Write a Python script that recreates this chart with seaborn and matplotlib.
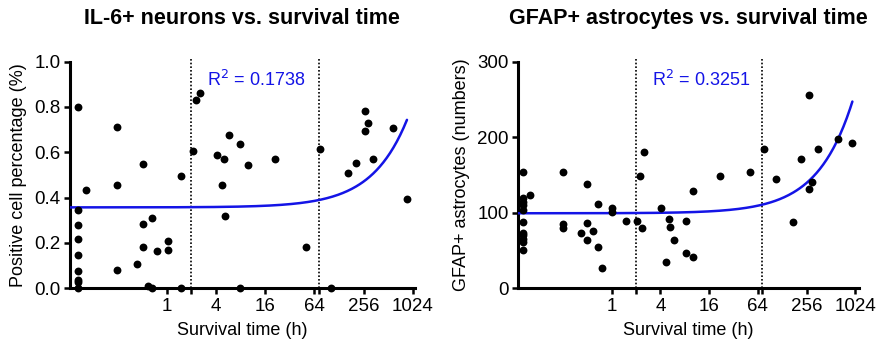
import numpy as np
import pandas as pd
import seaborn as sns
import matplotlib.pyplot as plt
from matplotlib.ticker import FixedLocator, FixedFormatter, NullFormatter

# IL-6+ neurons: survival time (h) and positive cell fraction
il6_hours = [0.082] * 9 + [0.104, 0.25, 0.25, 0.25, 0.43, 0.52, 0.52, 0.52, 0.6, 0.67, 0.67, 0.77,
             1.03, 1.03, 1.5, 1.5, 2.1, 2.26, 2.55, 4.08, 4.7, 5.06, 5.2, 5.8, 8, 8, 10, 21, 50,
             74, 103, 166, 208, 263, 263, 290, 333, 590, 866]
il6_pct = [0.80, 0.347, 0.279, 0.219, 0.148, 0.076, 0.037, 0.026, 0.0,
           0.434, 0.71, 0.456, 0.081, 0.109, 0.55, 0.285, 0.184, 0.01, 0.312, 0.0, 0.166,
           0.209, 0.171, 0.494, 0.0, 0.606, 0.831, 0.86, 0.587, 0.456, 0.569, 0.318, 0.675,
           0.638, 0.0, 0.546, 0.571, 0.184, 0.613, 0.0, 0.509, 0.554, 0.694, 0.784, 0.728,
           0.572, 0.707, 0.394]

# GFAP+ astrocytes: survival time (h) and counts
gfap_hours = [0.079] * 11 + [0.097, 0.25, 0.25, 0.25, 0.42, 0.5, 0.5, 0.5, 0.58, 0.67, 0.67, 0.76,
              1.0, 1.0, 1.5, 2.07, 2.24, 2.35, 2.53, 4.03, 4.7, 5.07, 5.27, 5.9, 8.2, 8.2,
              10.2, 10.2, 21.5, 51, 77, 108, 173, 218, 274, 274, 295, 350, 625, 942]
gfap_count = [154.3, 119.5, 114.6, 109.8, 103.6, 87.3, 72.8, 70.1, 65.6, 61.7, 50.7,
              123, 154.4, 85.6, 79.4, 73.7, 137.6, 86.5, 63.5, 76.3, 111.2, 55.1, 27.4,
              105.9, 101, 89.6, 88.7, 148.7, 80.3, 180.9, 106.8, 35.3, 91.3, 81.6, 64.4,
              89.6, 46.3, 128.8, 41.5, 148.7, 154, 184, 144.7, 88.2, 170.7, 255.9, 131.5,
              140.7, 184.4, 197.6, 192.8]

# linear fits (intercept, slope) and R^2 as shown on the chart
il6_fit = (0.357, 0.000446)
gfap_fit = (99.3, 0.157)
il6_r2 = "0.1738"
gfap_r2 = "0.3251"

x_ticks = [1, 4, 16, 64, 256, 1024]
marker_hours = [2, 72]

sns.set_theme(style="ticks")
plt.rcParams['font.family'] = ['Liberation Sans', 'DejaVu Sans']
plt.rcParams.update({"text.color": "black", "axes.labelcolor": "black",
                     "xtick.color": "black", "ytick.color": "black"})

fig = plt.figure(figsize=(8.77, 3.46), dpi=100)
ax1 = fig.add_axes([0.0798, 0.1668, 0.393, 0.655])
ax2 = fig.add_axes([0.591, 0.1668, 0.388, 0.655])

panels = [
    (ax1, il6_hours, il6_pct, il6_fit, il6_r2, (0.066, 1075), (0, 1.0), [0, 0.2, 0.4, 0.6, 0.8, 1.0],
     "IL-6+ neurons vs. survival time", "Positive cell percentage (%)", "{:.1f}", 0.92),
    (ax2, gfap_hours, gfap_count, gfap_fit, gfap_r2, (0.07, 1124), (0, 300), [0, 100, 200, 300],
     "GFAP+ astrocytes vs. survival time", "GFAP+ astrocytes (numbers)", "{:.0f}", 276),
]

blue = "#1414e6"

for ax, hrs, vals, fit, r2, xlim, ylim, yticks, title, ylabel, fmt, r2_y in panels:
    df = pd.DataFrame({"hours": hrs, "value": vals})
    sns.scatterplot(data=df, x="hours", y="value", ax=ax, color="black", s=32,
                    linewidth=0, clip_on=False, zorder=4)
    xs = np.geomspace(xlim[0], max(hrs), 300)
    sns.lineplot(x=xs, y=fit[0] + fit[1] * xs, ax=ax, color=blue, lw=1.8, zorder=3)
    for h in marker_hours:
        ax.axvline(h, ymin=0, ymax=1.02, color="black", ls=(0, (1, 1.2)), lw=1.2,
                   clip_on=False, zorder=2)

    ax.set_xscale("log", base=2)
    ax.set_xlim(*xlim)
    ax.set_ylim(*ylim)
    ax.xaxis.set_major_locator(FixedLocator(x_ticks))
    ax.xaxis.set_major_formatter(FixedFormatter([str(t) for t in x_ticks]))
    ax.xaxis.set_minor_locator(FixedLocator(marker_hours))
    ax.xaxis.set_minor_formatter(NullFormatter())
    ax.set_yticks(yticks)
    ax.set_yticklabels([fmt.format(t) for t in yticks])

    for s in ["top", "right"]:
        ax.spines[s].set_visible(False)
    for s in ["left", "bottom"]:
        ax.spines[s].set_linewidth(2.2)
        ax.spines[s].set_color("black")
    ax.tick_params(which="both", direction="out", length=4, width=1.8,
                   labelsize=13.5, pad=3)

    ax.set_xlabel("Survival time (h)", fontsize=13, labelpad=5)
    ax.set_ylabel(ylabel, fontsize=13, labelpad=5)
    ax.set_title(title, fontsize=15.5, fontweight="bold", pad=27)
    ax.text(3.1, r2_y, "R$^2$ = " + r2, color=blue, fontsize=13, va="center")

plt.savefig("out.png", dpi=100)
